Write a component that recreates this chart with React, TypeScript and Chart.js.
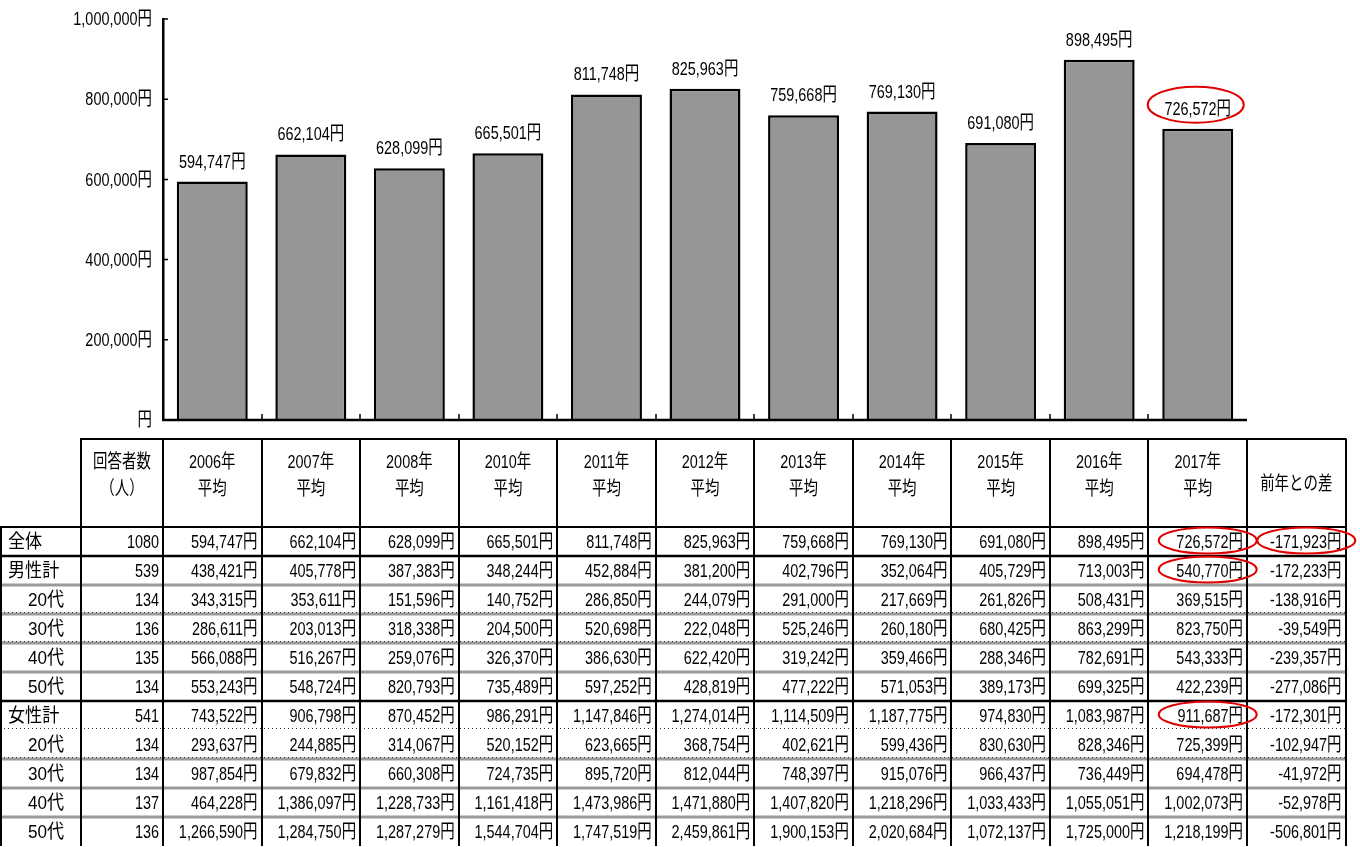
import React, { useEffect, useRef } from 'react';
import { Chart, registerables } from 'chart.js';

Chart.register(...registerables);

// ---------------- data ----------------
const years = ['2006年', '2007年', '2008年', '2010年', '2011年', '2012年', '2013年', '2014年', '2015年', '2016年', '2017年'];
const overallAverage = [594747, 662104, 628099, 665501, 811748, 825963, 759668, 769130, 691080, 898495, 726572];
const yTickValues = [0, 200000, 400000, 600000, 800000, 1000000];

const rowLabels = ['全体', '男性計', '20代', '30代', '40代', '50代', '女性計', '20代', '30代', '40代', '50代'];
const rowIsGroup = [true, true, false, false, false, false, true, false, false, false, false];
const respondents = [1080, 539, 134, 136, 135, 134, 541, 134, 134, 137, 136];

const rowTotal = [594747, 662104, 628099, 665501, 811748, 825963, 759668, 769130, 691080, 898495, 726572];
const rowMale = [438421, 405778, 387383, 348244, 452884, 381200, 402796, 352064, 405729, 713003, 540770];
const rowMale20 = [343315, 353611, 151596, 140752, 286850, 244079, 291000, 217669, 261826, 508431, 369515];
const rowMale30 = [286611, 203013, 318338, 204500, 520698, 222048, 525246, 260180, 680425, 863299, 823750];
const rowMale40 = [566088, 516267, 259076, 326370, 386630, 622420, 319242, 359466, 288346, 782691, 543333];
const rowMale50 = [553243, 548724, 820793, 735489, 597252, 428819, 477222, 571053, 389173, 699325, 422239];
const rowFemale = [743522, 906798, 870452, 986291, 1147846, 1274014, 1114509, 1187775, 974830, 1083987, 911687];
const rowFemale20 = [293637, 244885, 314067, 520152, 623665, 368754, 402621, 599436, 830630, 828346, 725399];
const rowFemale30 = [987854, 679832, 660308, 724735, 895720, 812044, 748397, 915076, 966437, 736449, 694478];
const rowFemale40 = [464228, 1386097, 1228733, 1161418, 1473986, 1471880, 1407820, 1218296, 1033433, 1055051, 1002073];
const rowFemale50 = [1266590, 1284750, 1287279, 1544704, 1747519, 2459861, 1900153, 2020684, 1072137, 1725000, 1218199];
const tableRows = [rowTotal, rowMale, rowMale20, rowMale30, rowMale40, rowMale50, rowFemale, rowFemale20, rowFemale30, rowFemale40, rowFemale50];
const diffFromPrevYear = [-171923, -172233, -138916, -39549, -239357, -277086, -172301, -102947, -41972, -52978, -506801];

// separator drawn on top of each body row (index 1..10)
const rowTopLine = ['black', 'black', 'gray', 'grayDot', 'grayDot', 'gray', 'black', 'dot', 'grayDot', 'gray', 'gray'];

// highlighted (red ellipse) cells: [row, column]; column 11 = 前年との差
const highlightCells = [[0, 10], [0, 11], [1, 10], [6, 10]];
const highlightBar = 10;

// ---------------- style / layout ----------------
const FAM = "'Liberation Sans', Arial, 'Noto Sans CJK JP', sans-serif";
const FS = 19;
const SX = 0.76; // horizontal condensing of text
const W = 1360;
const H = 847;
const AXIS_W = 163;
const PAD_RIGHT = 113;
const PAD_TOP = 19;
const PAD_BOTTOM = 427;
const LABEL_COL_R = 81;
const HEADER_TOP = 439;
const HEADER_BOTTOM = 527;
const ROW_H = 29;

const fmt = (n: number) => n.toLocaleString('en-US') + '円';
const fmtTick = (v: number) => (v === 0 ? '円' : v.toLocaleString('en-US') + '円');

function drawText(
  ctx: CanvasRenderingContext2D,
  text: string,
  x: number,
  y: number,
  align: CanvasTextAlign,
  baseline: CanvasTextBaseline = 'middle',
  sx: number = SX,
) {
  ctx.save();
  ctx.translate(x, y);
  ctx.scale(sx, 1);
  ctx.font = `${FS}px ${FAM}`;
  ctx.fillStyle = '#000';
  ctx.textAlign = align;
  ctx.textBaseline = baseline;
  ctx.fillText(text, 0, 0);
  ctx.restore();
}

function tablePluginFactory() {
  return {
    id: 'tableAndMarks',
    afterDatasetsDraw(chart: any) {
      const { ctx, chartArea, scales } = chart;
      const { left, right } = chartArea;
      const y = scales.y;
      const y0 = y.getPixelForValue(0);
      const w = (right - left) / years.length;
      ctx.save();
      // baseline
      ctx.strokeStyle = '#000';
      ctx.lineWidth = 2.5;
      ctx.beginPath();
      ctx.moveTo(left - 1, y0);
      ctx.lineTo(right, y0);
      ctx.stroke();
      // inward category ticks
      ctx.lineWidth = 1.5;
      ctx.beginPath();
      for (let i = 1; i < years.length; i++) {
        const xx = Math.round(left + i * w);
        ctx.moveTo(xx, y0);
        ctx.lineTo(xx, y0 - 6);
      }
      // inward y ticks
      yTickValues.forEach((v) => {
        const yy = y.getPixelForValue(v);
        ctx.moveTo(left, yy);
        ctx.lineTo(left + 5, yy);
      });
      ctx.stroke();

      // y tick labels (condensed)
      yTickValues.forEach((v) => {
        drawText(ctx, fmtTick(v), left - 11, y.getPixelForValue(v) + 1, 'right');
      });

      // bar value labels
      const meta = chart.getDatasetMeta(0);
      meta.data.forEach((bar: any, i: number) => {
        drawText(ctx, fmt(overallAverage[i]), bar.x, bar.y - 14, 'center', 'alphabetic');
      });
      // red ellipse round highlighted bar label
      const hb = meta.data[highlightBar];
      ctx.strokeStyle = '#e00000';
      ctx.lineWidth = 2;
      ctx.beginPath();
      ctx.ellipse(hb.x - 2, hb.y - 24, 48, 18, 0, 0, Math.PI * 2);
      ctx.stroke();
      ctx.restore();
    },
    afterDraw(chart: any) {
      const { ctx, chartArea } = chart;
      const { left, right } = chartArea;
      const n = years.length;
      const w = (right - left) / n;
      const tableRight = right + w;
      const bodyTop = HEADER_BOTTOM;
      const bodyBottom = bodyTop + ROW_H * rowLabels.length;
      const colLeft = (c: number) => left + c * w; // c = 0..11 (11 = diff column)
      ctx.save();

      // header text
      const hMid = (LABEL_COL_R + left) / 2;
      drawText(ctx, '回答者数', hMid, 463, 'center');
      drawText(ctx, '（人）', hMid, 490, 'center');
      for (let c = 0; c < n; c++) {
        const cx = colLeft(c) + w / 2;
        drawText(ctx, years[c], cx, 463, 'center');
        drawText(ctx, '平均', cx, 490, 'center');
      }
      drawText(ctx, '前年との差', colLeft(n) + w / 2, 485, 'center');

      // body text
      for (let r = 0; r < rowLabels.length; r++) {
        const cy = bodyTop + r * ROW_H + ROW_H / 2 + 1;
        drawText(ctx, rowLabels[r], rowIsGroup[r] ? 8 : 28, cy, 'left', 'middle', 0.9);
        drawText(ctx, String(respondents[r]), left - 4, cy, 'right');
        for (let c = 0; c < n; c++) {
          drawText(ctx, fmt(tableRows[r][c]), colLeft(c + 1) - 4, cy, 'right');
        }
        drawText(ctx, fmt(diffFromPrevYear[r]), tableRight - 4, cy, 'right');
      }

      // horizontal lines
      const hline = (yy: number, x1: number, x2: number) => {
        ctx.beginPath();
        ctx.moveTo(x1, yy);
        ctx.lineTo(x2, yy);
        ctx.stroke();
      };
      ctx.setLineDash([]);
      ctx.strokeStyle = '#000';
      ctx.lineWidth = 2;
      hline(HEADER_TOP, LABEL_COL_R - 1, tableRight + 1);
      hline(HEADER_BOTTOM, 0, tableRight + 1);
      for (let r = 1; r < rowLabels.length; r++) {
        const yy = bodyTop + r * ROW_H;
        const style = rowTopLine[r];
        if (style === 'black') {
          ctx.setLineDash([]);
          ctx.strokeStyle = '#000';
          ctx.lineWidth = 2.5;
          hline(yy, 0, tableRight + 1);
        } else {
          if (style !== 'dot') {
            ctx.setLineDash([]);
            ctx.strokeStyle = '#9a9a9a';
            ctx.lineWidth = 3;
            hline(yy, 0, tableRight);
          }
          if (style === 'grayDot' || style === 'dot') {
            ctx.setLineDash([1, 3]);
            ctx.strokeStyle = '#333';
            ctx.lineWidth = 1;
            hline(yy - 1.5, 0, tableRight);
          }
        }
      }
      ctx.setLineDash([]);

      // vertical lines
      ctx.strokeStyle = '#000';
      ctx.lineWidth = 2;
      const vline = (xx: number, y1: number, y2: number) => {
        ctx.beginPath();
        ctx.moveTo(xx, y1);
        ctx.lineTo(xx, y2);
        ctx.stroke();
      };
      vline(1, bodyTop, bodyBottom);
      vline(LABEL_COL_R, HEADER_TOP, bodyBottom);
      for (let c = 0; c <= n + 1; c++) {
        vline(Math.round(colLeft(c)), HEADER_TOP, bodyBottom);
      }

      // red ellipses
      ctx.strokeStyle = '#e00000';
      ctx.lineWidth = 2;
      highlightCells.forEach(([r, c]) => {
        const cx = colLeft(c) + w / 2 + 10;
        const cy = bodyTop + r * ROW_H + ROW_H / 2 - 1;
        ctx.beginPath();
        ctx.ellipse(cx, cy, 49, 13, 0, 0, Math.PI * 2);
        ctx.stroke();
      });
      ctx.restore();
    },
  };
}

export default function App() {
  const ref = useRef<HTMLCanvasElement | null>(null);
  useEffect(() => {
    if (!ref.current) return;
    const chart = new Chart(ref.current, {
      type: 'bar',
      data: {
        labels: years,
        datasets: [
          {
            data: overallAverage,
            backgroundColor: '#969696',
            borderColor: '#000',
            borderWidth: 2.5,
            barPercentage: 0.72,
            categoryPercentage: 1,
          },
        ],
      },
      options: {
        responsive: false,
        animation: false,
        devicePixelRatio: 1,
        layout: { padding: { left: 0, right: PAD_RIGHT, top: PAD_TOP, bottom: PAD_BOTTOM } },
        plugins: { legend: { display: false }, tooltip: { enabled: false } },
        scales: {
          x: { display: false },
          y: {
            min: 0,
            max: 1000000,
            afterBuildTicks: (s: any) => {
              s.ticks = yTickValues.map((v) => ({ value: v }));
            },
            afterFit: (s: any) => {
              s.width = AXIS_W;
            },
            ticks: {
              display: false,
              callback: (v: any) => fmtTick(Number(v)),
            },
            grid: { display: false, drawTicks: false },
            border: { display: true, color: '#000', width: 2.5 },
          },
        },
      },
      plugins: [tablePluginFactory()],
    } as any);
    return () => chart.destroy();
  }, []);
  return (
    <div style={{ position: 'absolute', left: 0, top: 0, width: W, height: H, background: '#fff' }}>
      <canvas ref={ref} width={W} height={H} style={{ display: 'block', width: W, height: H }} />
    </div>
  );
}
